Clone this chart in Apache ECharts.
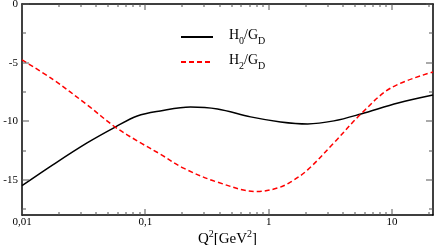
<!DOCTYPE html>
<html>
<head>
<meta charset="utf-8">
<script src="https://cdn.jsdelivr.net/npm/echarts@6/dist/echarts.min.js"></script>
<style>
html,body{margin:0;padding:0;background:#fff;}
#c{width:436px;height:245px;}
</style>
</head>
<body>
<div id="c"></div>
<script>
// Data
const qH0 = [0.01, 0.0179, 0.0337, 0.057, 0.086, 0.132, 0.232, 0.385, 0.714, 1.25, 2.07, 3.38, 5.6, 11.2, 21.5];
const h0  = [-15.5, -13.7, -11.85, -10.5, -9.55, -9.12, -8.78, -8.95, -9.63, -10.06, -10.23, -9.97, -9.38, -8.44, -7.76];
const qH2 = [0.01, 0.0179, 0.0337, 0.057, 0.09, 0.132, 0.204, 0.385, 0.81, 1.18, 1.5, 2.07, 3.38, 5.6, 9.8, 21.5];
const h2  = [-4.77, -6.45, -8.6, -10.5, -11.8, -12.8, -14.0, -15.2, -16.0, -15.7, -15.2, -14.15, -11.85, -9.38, -7.16, -5.8];
const xMajorTicks = [0.01, 0.1, 1, 10];
const xMinorTicks = [0.02,0.03,0.04,0.05,0.06,0.07,0.08,0.09,0.2,0.3,0.4,0.5,0.6,0.7,0.8,0.9,2,3,4,5,6,7,8,9,20];
const yMajorTicks = [0, -5, -10, -15];
const yMinorTicks = [-2.5, -7.5, -12.5, -17.5];

const FONT = 'Liberation Serif';
const X_MIN = 0.01, X_MAX = 21.5, Y_MIN = -18, Y_MAX = 0;
const MAJOR_LEN = 6, MINOR_LEN = 3;
const TICK_COLOR = '#555';

function xTickItem(params, api) {
  const v = api.value(0), len = api.value(1);
  const b = api.coord([v, Y_MIN]), t = api.coord([v, Y_MAX]);
  const x = Math.round(b[0]) - 0.5;
  return {type: 'group', children: [
    {type: 'rect', shape: {x: x, y: b[1] - len, width: 1, height: len}, style: {fill: TICK_COLOR}},
    {type: 'rect', shape: {x: x, y: t[1], width: 1, height: len}, style: {fill: TICK_COLOR}}
  ]};
}
function yTickItem(params, api) {
  const v = api.value(1), len = api.value(0);
  const l = api.coord([X_MIN, v]), r = api.coord([X_MAX, v]);
  const y = Math.round(l[1]) - 0.5;
  return {type: 'group', children: [
    {type: 'rect', shape: {x: l[0], y: y, width: len, height: 1}, style: {fill: TICK_COLOR}},
    {type: 'rect', shape: {x: r[0] - len, y: y, width: len, height: 1}, style: {fill: TICK_COLOR}}
  ]};
}

const chart = echarts.init(document.getElementById('c'), null, {renderer: 'canvas'});
chart.setOption({
  animation: false,
  backgroundColor: '#fff',
  grid: {left: 22, right: 3, top: 4, bottom: 30, containLabel: false, outerBoundsMode: 'none'},
  xAxis: [{
    type: 'log', logBase: 10, min: X_MIN, max: X_MAX, position: 'bottom',
    axisLine: {show: true, onZero: false, lineStyle: {color: '#000', width: 1.5}},
    axisTick: {show: false},
    axisLabel: {show: true, customValues: xMajorTicks, color: '#000', fontFamily: FONT, fontSize: 11, margin: 2,
      formatter: v => String(v).replace('.', ',')},
    splitLine: {show: false},
    name: '{a|Q}{s|2}{a|[GeV}{s|2}{a|]}',
    nameLocation: 'middle', nameGap: 14, nameMoveOverlap: false,
    nameTextStyle: {rich: {
      a: {fontFamily: FONT, fontSize: 15, color: '#000', lineHeight: 18, verticalAlign: 'bottom'},
      s: {fontFamily: FONT, fontSize: 10, color: '#000', lineHeight: 18, verticalAlign: 'top', padding: [0,0,7,0]}
    }}
  }, {
    type: 'log', logBase: 10, min: X_MIN, max: X_MAX, position: 'top',
    axisLine: {show: true, onZero: false, lineStyle: {color: '#000', width: 1.5}},
    axisTick: {show: false}, axisLabel: {show: false}, splitLine: {show: false}
  }],
  yAxis: [{
    type: 'value', min: Y_MIN, max: Y_MAX, position: 'left',
    axisLine: {show: true, onZero: false, lineStyle: {color: '#000', width: 1.5}},
    axisTick: {show: false},
    axisLabel: {show: true, customValues: yMajorTicks, color: '#000', fontFamily: FONT, fontSize: 11, margin: 4},
    splitLine: {show: false}
  }, {
    type: 'value', min: Y_MIN, max: Y_MAX, position: 'right',
    axisLine: {show: true, onZero: false, lineStyle: {color: '#000', width: 1.5}},
    axisTick: {show: false}, axisLabel: {show: false}, splitLine: {show: false}
  }],
  legend: {
    orient: 'vertical', left: 180, top: 28, padding: 0, itemWidth: 32, itemHeight: 2, itemGap: 7,
    itemStyle: {opacity: 0},
    data: ['H0/GD', 'H2/GD'],
    formatter: n => n === 'H0/GD' ? '{n|H}{b|0}{n|/G}{b|D}' : '{n|H}{b|2}{n|/G}{b|D}',
    textStyle: {padding: [0,0,0,11], rich: {
      n: {fontFamily: FONT, fontSize: 14, color: '#000', lineHeight: 18, verticalAlign: 'top'},
      b: {fontFamily: FONT, fontSize: 10, color: '#000', lineHeight: 18, verticalAlign: 'bottom', padding: [6,0,0,0]}
    }}
  },
  series: [
    {name: 'H0/GD', type: 'line', smooth: 0.35, symbol: 'none', xAxisIndex: 0, yAxisIndex: 0,
     data: qH0.map((q, i) => [q, h0[i]]),
     lineStyle: {color: '#000', width: 1.5}, itemStyle: {color: '#000'}},
    {name: 'H2/GD', type: 'line', smooth: 0.35, symbol: 'none', xAxisIndex: 0, yAxisIndex: 0,
     data: qH2.map((q, i) => [q, h2[i]]),
     lineStyle: {color: '#ff0000', width: 1.5, type: [5, 3]}, itemStyle: {color: '#ff0000'}},
    {name: 'xticks', type: 'custom', silent: true, clip: false, xAxisIndex: 0, yAxisIndex: 0, z: 5,
     renderItem: xTickItem,
     data: xMajorTicks.map(v => [v, MAJOR_LEN]).concat(xMinorTicks.map(v => [v, MINOR_LEN]))},
    {name: 'yticks', type: 'custom', silent: true, clip: false, xAxisIndex: 0, yAxisIndex: 0, z: 5,
     renderItem: yTickItem,
     data: yMajorTicks.map(v => [MAJOR_LEN + 1, v]).concat(yMinorTicks.map(v => [MINOR_LEN + 1, v]))}
  ]
});
</script>
</body>
</html>
